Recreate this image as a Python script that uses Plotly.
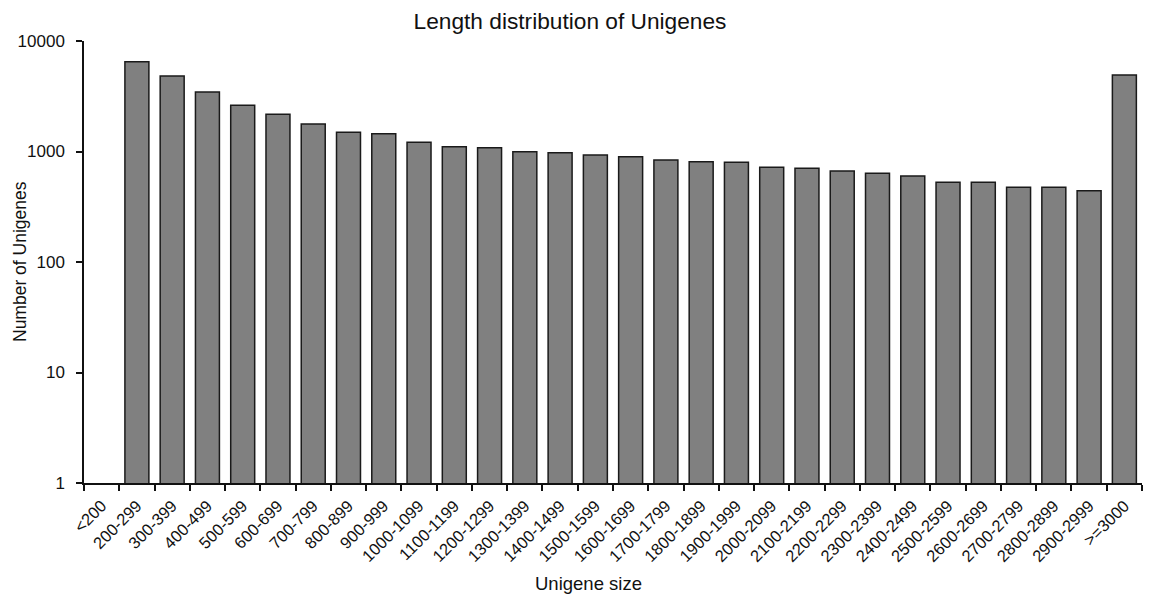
import plotly.graph_objects as go

categories = ["<200", "200-299", "300-399", "400-499", "500-599", "600-699", "700-799",
              "800-899", "900-999", "1000-1099", "1100-1199", "1200-1299", "1300-1399",
              "1400-1499", "1500-1599", "1600-1699", "1700-1799", "1800-1899", "1900-1999",
              "2000-2099", "2100-2199", "2200-2299", "2300-2399", "2400-2499", "2500-2599",
              "2600-2699", "2700-2799", "2800-2899", "2900-2999", ">=3000"]
counts = [None, 6500, 4830, 3460, 2620, 2170, 1775, 1495, 1450, 1210, 1105, 1082, 995,
          975, 930, 897, 837, 809, 798, 719, 705, 666, 634, 600, 526, 526, 474, 474, 442, 4930]
y_tickvals = [1, 10, 100, 1000, 10000]
y_ticktext = ["1", "10", "100", "1000", "10000"]

FONT = "Liberation Sans, Arial, sans-serif"

W, H = 1154, 597
L, T, R, B = 76, 33, 20, 122   # page body adds an 8px offset
PW, PH = W - L - R, H - T - B

fig = go.Figure(go.Bar(
    x=categories, y=counts,
    marker=dict(color="#808080", line=dict(color="#1a1a1a", width=1.5)),
))

fig.update_layout(
    width=W, height=H,
    paper_bgcolor="white", plot_bgcolor="white",
    margin=dict(l=L, r=R, t=T, b=B),
    bargap=0.32,
    showlegend=False,
    font=dict(family=FONT, color="#111111", size=16),
    title=dict(text="Length distribution of Unigenes", x=562/W, xanchor="center",
               y=1-13/H, yanchor="middle", xref="container", yref="container",
               font=dict(family=FONT, size=22.7, color="#111111")),
    annotations=[
        dict(text="Unigene size", xref="paper", yref="paper",
             x=(580-L)/PW, y=-(575-(H-B))/PH, xanchor="center", yanchor="middle",
             showarrow=False, font=dict(family=FONT, size=18.5, color="#111111")),
        dict(text="Number of Unigenes", xref="paper", yref="paper",
             x=(12-L)/PW, y=0.5, xanchor="center", yanchor="middle", textangle=-90,
             showarrow=False, font=dict(family=FONT, size=17.5, color="#111111")),
    ],
)

fig.update_xaxes(
    type="category", tickson="boundaries", ticks="outside", ticklen=6, tickwidth=1.5,
    tickcolor="#111111", showline=True, linecolor="#111111", linewidth=1.5,
    tickangle=-45, tickfont=dict(family=FONT, size=16.5), automargin=False,
    ticklabelstandoff=5,
    showgrid=False, zeroline=False,
)
fig.update_yaxes(
    type="log", range=[0, 4], tickvals=y_tickvals, ticktext=y_ticktext,
    ticks="outside", ticklen=6, tickwidth=1.5, tickcolor="#111111",
    showline=True, linecolor="#111111", linewidth=1.5,
    tickfont=dict(family=FONT, size=17), automargin=False,
    ticklabelstandoff=8,
    showgrid=False, zeroline=False,
)

fig.write_html("out.html")
